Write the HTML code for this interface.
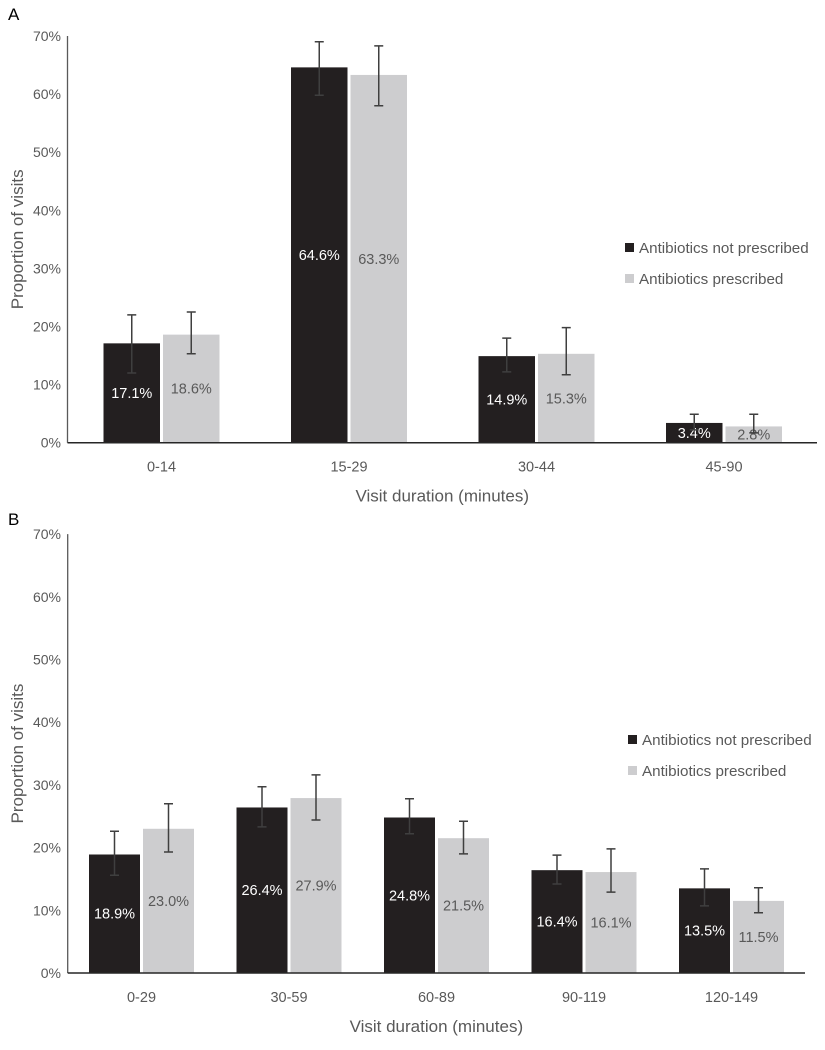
<!DOCTYPE html>
<html><head><meta charset="utf-8"><style>
body{margin:0;background:#fff}
svg{display:block}
text{font-family:"Liberation Sans",sans-serif}
</style></head><body>
<svg width="825" height="1050" viewBox="0 0 825 1050" xmlns="http://www.w3.org/2000/svg">
<g id="root"></g>
</svg>
<script>
const NS="http://www.w3.org/2000/svg",root=document.getElementById("root");
function el(t,a,txt){const e=document.createElementNS(NS,t);for(const k in a)e.setAttribute(k,a[k]);if(txt!==undefined)e.textContent=txt;root.appendChild(e);return e;}
function panel(o){
  const {x0,x1,y0,unit,cats,centers,dark,light,edark,elight,bw,label,legY,legX}=o;
  el("text",{x:8,y:o.labY,"font-size":17,fill:"#000"},label);
  for(let i=0;i<=7;i++){const y=y0-i*unit;el("text",{x:61,y:y+5,"font-size":14,fill:"#595959","text-anchor":"end"},(i*10)+"%");}
  el("line",{x1:x0,y1:y0-7*unit,x2:x0,y2:y0,stroke:"#595959","stroke-width":1.3});
  for(let i=0;i<cats.length;i++){
    const c=centers[i];
    const bars=[[c-bw-1.5,dark[i],"#231f20","#fff",edark[i]],[c+1.5,light[i],"#cdcdcf","#595959",elight[i]]];
    for(const [bx,v,col,tc,e] of bars){
      const h=v*unit/10;
      el("rect",{x:bx,y:y0-h,width:bw,height:h,fill:col});
      el("text",{x:bx+bw/2,y:y0-h/2+5,"font-size":14.5,fill:tc,"text-anchor":"middle"},v.toFixed(1)+"%");
      const ex=bx+bw/2,t=y0-e[0]*unit/10,b=y0-e[1]*unit/10;
      el("path",{d:`M${ex} ${t}V${b}M${ex-4.5} ${t}H${ex+4.5}M${ex-4.5} ${b}H${ex+4.5}`,stroke:"#3f3f3f","stroke-width":1.5,fill:"none"});
    }
    el("text",{x:c,y:y0+29,"font-size":14.5,fill:"#595959","text-anchor":"middle"},cats[i]);
  }
  el("line",{x1:x0,y1:y0,x2:x1,y2:y0,stroke:"#262626","stroke-width":1.5});
  el("text",{x:(x0+x1)/2,y:y0+59,"font-size":17,fill:"#595959","text-anchor":"middle"},"Visit duration (minutes)");
  el("text",{x:0,y:0,"font-size":17,fill:"#595959","text-anchor":"middle",transform:`translate(23 ${y0-3.5*unit}) rotate(-90)`},"Proportion of visits");
  el("rect",{x:legX,y:legY-5,width:9,height:9,fill:"#231f20"});
  el("text",{x:legX+14,y:legY+5,"font-size":15.2,fill:"#595959"},"Antibiotics not prescribed");
  el("rect",{x:legX,y:legY+26,width:9,height:9,fill:"#cdcdcf"});
  el("text",{x:legX+14,y:legY+36,"font-size":15.2,fill:"#595959"},"Antibiotics prescribed");
}
panel({x0:67.5,x1:817,y0:442.7,unit:58.1,label:"A",labY:20,
 cats:["0-14","15-29","30-44","45-90"],centers:[161.5,349,536.5,724],bw:56.5,
 dark:[17.1,64.6,14.9,3.4],light:[18.6,63.3,15.3,2.8],
 edark:[[22,12],[69,59.8],[18,12.2],[4.9,2.2]],elight:[[22.5,15.3],[68.3,58],[19.8,11.7],[4.9,1.7]],
 legX:625,legY:248});
panel({x0:67.7,x1:805,y0:973,unit:62.7,label:"B",labY:525,
 cats:["0-29","30-59","60-89","90-119","120-149"],centers:[141.5,289,436.5,584,731.5],bw:51,
 dark:[18.9,26.4,24.8,16.4,13.5],light:[23.0,27.9,21.5,16.1,11.5],
 edark:[[22.6,15.6],[29.7,23.3],[27.8,22.2],[18.8,14.2],[16.6,10.7]],
 elight:[[27,19.3],[31.6,24.4],[24.2,19],[19.8,12.9],[13.6,9.6]],
 legX:628,legY:740});
</script>
</body></html>
